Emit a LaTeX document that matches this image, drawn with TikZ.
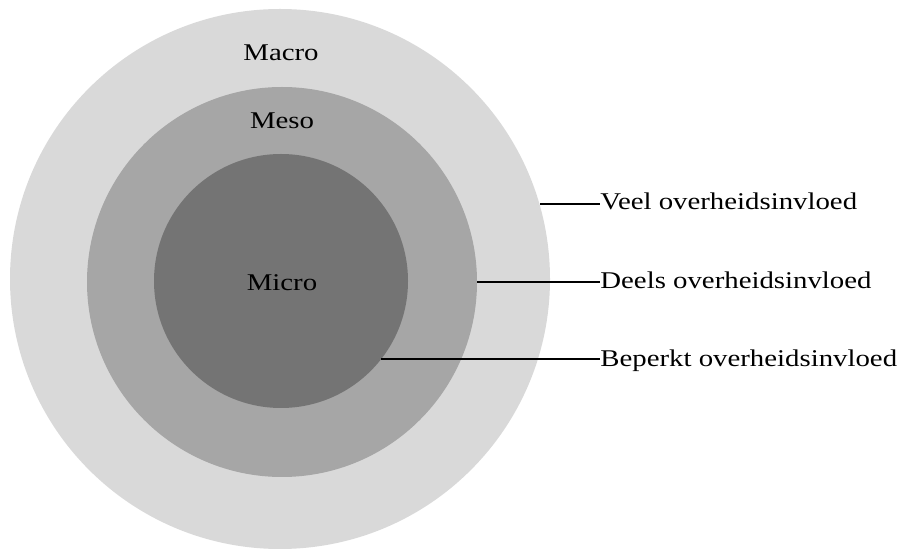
\documentclass[tikz,border=0pt]{standalone}
\usepackage{fontspec}
\setmainfont[FakeStretch=1.2]{Liberation Serif}
\tikzset{
  ring/.style={circle,draw=none,inner sep=0pt},
  lbl/.style={anchor=base west,inner sep=0pt,font=\fontsize{12}{14}\selectfont},
  ringlbl/.style={anchor=base,inner sep=0pt,font=\fontsize{12}{14}\selectfont},
  leader/.style={line width=1pt}
}
\begin{document}
\begin{tikzpicture}[x=0.5pt,y=-0.5pt]
  \useasboundingbox (0,0) rectangle (900,550);
  % the three rings
  \node[ring,fill={rgb,255:red,217;green,217;blue,217},minimum size=270pt] (macro) at (280,279) {};
  \node[ring,fill={rgb,255:red,166;green,166;blue,166},minimum size=195pt] (meso) at (282,282) {};
  \node[ring,fill={rgb,255:red,116;green,116;blue,116},minimum size=127pt] (micro) at (281,281) {};
  \node[ringlbl] (macrolbl) at (281,61) {Macro};
  \node[ringlbl] (mesolbl) at (282,129) {Meso};
  \node[ringlbl] (microlbl) at (282,291) {Micro};
  % labels on the right
  \node[lbl] (veel) at (600,210) {Veel overheidsinvloed};
  \node[lbl] (deels) at (600,289) {Deels overheidsinvloed};
  \node[lbl] (beperkt) at (600,367) {Beperkt overheidsinvloed};
  \draw[leader] (macro.16) -- (macro.16 -| veel.west);
  \draw[leader] (meso.east) -- (meso.east -| deels.west);
  \draw[leader] (micro.-38) -- (micro.-38 -| beperkt.west);
\end{tikzpicture}
\end{document}
